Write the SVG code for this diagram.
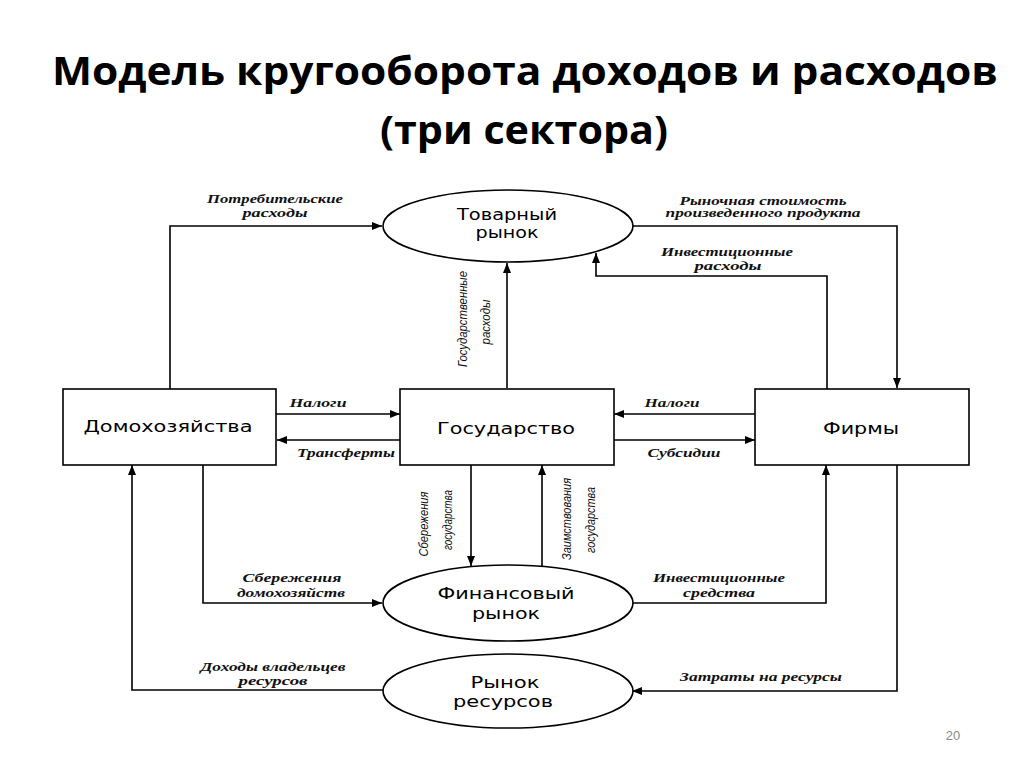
<svg xmlns="http://www.w3.org/2000/svg" width="1024" height="768" viewBox="0 0 1024 768">
<defs>
<marker id="arr" viewBox="0 0 10 10" refX="10" refY="5" markerWidth="10" markerHeight="10" markerUnits="userSpaceOnUse" orient="auto">
<path d="M0,1 L10,5 L0,9 Z" fill="#000"/>
</marker>
<style>
.title{font-family:"Open Sans","Liberation Sans",sans-serif;font-weight:bold;font-size:40px;fill:#000;text-anchor:middle}
.node{fill:#fff;stroke:#000;stroke-width:1.6}
.nt{font-family:"DejaVu Sans","Liberation Sans",sans-serif;font-size:15px;fill:#000;text-anchor:middle}
.ln{fill:none;stroke:#000;stroke-width:1.6;marker-end:url(#arr)}
.lb{font-family:"Liberation Serif",serif;font-style:italic;font-weight:bold;font-size:12px;fill:#111;text-anchor:middle}
.vl{font-family:"Liberation Sans",sans-serif;font-style:italic;font-size:12px;fill:#111;text-anchor:middle}
.pg{font-family:"Liberation Sans",sans-serif;font-size:13px;fill:#8a8a8a;text-anchor:middle}
</style>
</defs>
<rect width="1024" height="768" fill="#fff"/>
<text class="title" x="525" y="85" textLength="946" lengthAdjust="spacingAndGlyphs">Модель кругооборота доходов и расходов</text>
<text class="title" x="524" y="144" textLength="288" lengthAdjust="spacingAndGlyphs">(три сектора)</text>

<g id="connectors">
<path class="ln" d="M170,389 V226 H382"/>
<path class="ln" d="M632,226 H897 V388"/>
<path class="ln" d="M827,389 V276 H596 V253"/>
<path class="ln" d="M507,388 V263"/>
<path class="ln" d="M276,414 H400"/>
<path class="ln" d="M400,440 H277"/>
<path class="ln" d="M755,414 H614"/>
<path class="ln" d="M614,440 H755"/>
<path class="ln" d="M471,465 V566"/>
<path class="ln" d="M542,567 V465"/>
<path class="ln" d="M203,465 V603 H382"/>
<path class="ln" d="M632,603 H826 V465"/>
<path class="ln" d="M383,690 H132 V465"/>
<path class="ln" d="M897,465 V691 H632"/>

<text class="lb" x="275" y="203" textLength="136" lengthAdjust="spacingAndGlyphs">Потребительские</text>
<text class="lb" x="275" y="217" textLength="65" lengthAdjust="spacingAndGlyphs">расходы</text>
<text class="lb" x="763" y="205" textLength="167" lengthAdjust="spacingAndGlyphs">Рыночная стоимость</text>
<text class="lb" x="763" y="217" textLength="195" lengthAdjust="spacingAndGlyphs">произведенного продукта</text>
<text class="lb" x="727" y="256" textLength="132" lengthAdjust="spacingAndGlyphs">Инвестиционные</text>
<text class="lb" x="728" y="270" textLength="67" lengthAdjust="spacingAndGlyphs">расходы</text>
<text class="lb" x="318" y="407" textLength="57" lengthAdjust="spacingAndGlyphs">Налоги</text>
<text class="lb" x="346" y="457" textLength="98" lengthAdjust="spacingAndGlyphs">Трансферты</text>
<text class="lb" x="672" y="407" textLength="55" lengthAdjust="spacingAndGlyphs">Налоги</text>
<text class="lb" x="684" y="457" textLength="73" lengthAdjust="spacingAndGlyphs">Субсидии</text>
<text class="lb" x="292" y="582" textLength="99" lengthAdjust="spacingAndGlyphs">Сбережения</text>
<text class="lb" x="291" y="597" textLength="108" lengthAdjust="spacingAndGlyphs">домохозяйств</text>
<text class="lb" x="719" y="582" textLength="132" lengthAdjust="spacingAndGlyphs">Инвестиционные</text>
<text class="lb" x="719" y="597" textLength="72" lengthAdjust="spacingAndGlyphs">средства</text>
<text class="lb" x="273" y="671" textLength="145" lengthAdjust="spacingAndGlyphs">Доходы владельцев</text>
<text class="lb" x="273" y="685" textLength="69" lengthAdjust="spacingAndGlyphs">ресурсов</text>
<text class="lb" x="761" y="681" textLength="162" lengthAdjust="spacingAndGlyphs">Затраты на ресурсы</text>

<text class="vl" transform="translate(467,319) rotate(-90)" textLength="96" lengthAdjust="spacingAndGlyphs">Государственные</text>
<text class="vl" transform="translate(490,322) rotate(-90)" textLength="45" lengthAdjust="spacingAndGlyphs">расходы</text>
<text class="vl" transform="translate(428,524) rotate(-90)" textLength="65" lengthAdjust="spacingAndGlyphs">Сбережения</text>
<text class="vl" transform="translate(452,520) rotate(-90)" textLength="60" lengthAdjust="spacingAndGlyphs">государства</text>
<text class="vl" transform="translate(571,519) rotate(-90)" textLength="82" lengthAdjust="spacingAndGlyphs">Заимствования</text>
<text class="vl" transform="translate(595,520) rotate(-90)" textLength="66" lengthAdjust="spacingAndGlyphs">государства</text>
</g>

<g id="tovarny-rynok">
<ellipse class="node" cx="508" cy="226" rx="125" ry="36"/>
<text class="nt" x="507" y="220" textLength="100" lengthAdjust="spacingAndGlyphs">Товарный</text>
<text class="nt" x="507" y="238" textLength="63" lengthAdjust="spacingAndGlyphs">рынок</text>
</g>
<g id="domohozyaystva">
<rect class="node" x="63" y="389" width="213" height="76"/>
<text class="nt" x="168" y="432" textLength="169" lengthAdjust="spacingAndGlyphs">Домохозяйства</text>
</g>
<g id="gosudarstvo">
<rect class="node" x="400" y="389" width="214" height="76"/>
<text class="nt" x="506" y="434" textLength="138" lengthAdjust="spacingAndGlyphs">Государство</text>
</g>
<g id="firmy">
<rect class="node" x="755" y="389" width="214" height="76"/>
<text class="nt" x="861" y="434" textLength="76" lengthAdjust="spacingAndGlyphs">Фирмы</text>
</g>
<g id="finansovy-rynok">
<ellipse class="node" cx="508" cy="603" rx="125" ry="38"/>
<text class="nt" x="506" y="599" textLength="137" lengthAdjust="spacingAndGlyphs">Финансовый</text>
<text class="nt" x="506" y="619" textLength="68" lengthAdjust="spacingAndGlyphs">рынок</text>
</g>
<g id="rynok-resursov">
<ellipse class="node" cx="508" cy="691" rx="125" ry="37"/>
<text class="nt" x="505" y="688" textLength="69" lengthAdjust="spacingAndGlyphs">Рынок</text>
<text class="nt" x="503" y="707" textLength="100" lengthAdjust="spacingAndGlyphs">ресурсов</text>
</g>
<text class="pg" x="953" y="740">20</text>
</svg>
